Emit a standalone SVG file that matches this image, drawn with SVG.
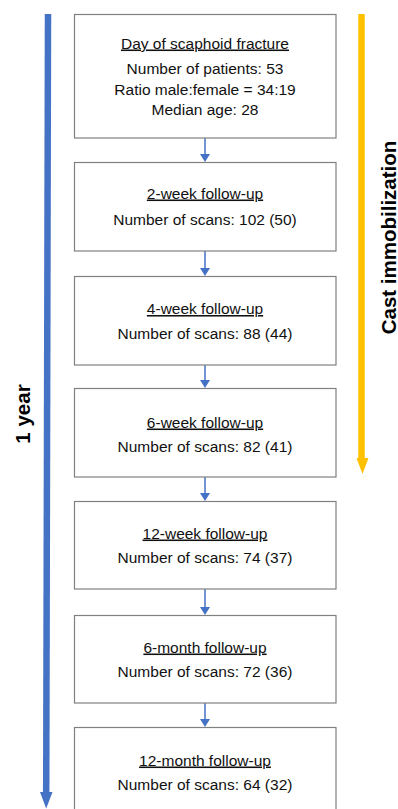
<svg xmlns="http://www.w3.org/2000/svg" width="398" height="809" viewBox="0 0 398 809">
<defs>
<style>
.box{fill:#fff;stroke:#808080;stroke-width:1.2}
.t{font-family:"Liberation Sans",Arial,sans-serif;font-size:15.5px;fill:#111;text-anchor:middle}
.h{text-decoration:underline}
.conn{stroke:#4472C4;stroke-width:1.5;fill:none}
.ah{fill:#4472C4}
.big{font-family:"Liberation Sans",Arial,sans-serif;font-size:20.5px;font-weight:bold;fill:#000;text-anchor:middle}
</style>
</defs>
<rect width="398" height="809" fill="#fff"/>
<g id="timeline-year">
<path d="M48 14 L46.2 794" stroke="#4472C4" stroke-width="6.5" fill="none"/>
<polygon points="40,792 52.5,792 46.2,808.5" fill="#4472C4"/>
<text class="big" transform="translate(29.5,414) rotate(-90)">1 year</text>
</g>
<g id="timeline-cast">
<line x1="361.5" y1="14" x2="361.5" y2="460" stroke="#FFC000" stroke-width="6.5"/>
<polygon points="356.5,458 368.5,458 362.5,474" fill="#FFC000"/>
<text class="big" transform="translate(395.5,237.5) rotate(-90)">Cast immobilization</text>
</g>
<g id="connectors">
<line class="conn" x1="205" y1="138" x2="205" y2="155"/><polygon class="ah" points="200,154 210,154 205,162"/>
<line class="conn" x1="205" y1="251" x2="205" y2="269"/><polygon class="ah" points="200,268 210,268 205,276"/>
<line class="conn" x1="205" y1="365" x2="205" y2="381"/><polygon class="ah" points="200,380 210,380 205,388"/>
<line class="conn" x1="205" y1="477" x2="205" y2="494"/><polygon class="ah" points="200,493 210,493 205,501"/>
<line class="conn" x1="205" y1="589" x2="205" y2="608"/><polygon class="ah" points="200,607 210,607 205,615"/>
<line class="conn" x1="205" y1="703" x2="205" y2="720"/><polygon class="ah" points="200,719 210,719 205,727"/>
</g>
<g id="n-day">
<rect class="box" x="74.5" y="14.5" width="261.5" height="123.5"/>
<text class="t h" x="205" y="48.5">Day of scaphoid fracture</text>
<text class="t" x="205" y="73.5">Number of patients: 53</text>
<text class="t" x="205" y="94.5">Ratio male:female = 34:19</text>
<text class="t" x="205" y="114.5">Median age: 28</text>
</g>
<g id="n-2w">
<rect class="box" x="74.5" y="162.5" width="261.5" height="88.5"/>
<text class="t h" x="205" y="198.5">2-week follow-up</text>
<text class="t" x="205" y="224.5">Number of scans: 102 (50)</text>
</g>
<g id="n-4w">
<rect class="box" x="74.5" y="276.5" width="261.5" height="88.5"/>
<text class="t h" x="205" y="314">4-week follow-up</text>
<text class="t" x="205" y="338.5">Number of scans: 88 (44)</text>
</g>
<g id="n-6w">
<rect class="box" x="74.5" y="388.5" width="261.5" height="88.5"/>
<text class="t h" x="205" y="427.5">6-week follow-up</text>
<text class="t" x="205" y="451.5">Number of scans: 82 (41)</text>
</g>
<g id="n-12w">
<rect class="box" x="74.5" y="501.5" width="261.5" height="87.5"/>
<text class="t h" x="205" y="538.5">12-week follow-up</text>
<text class="t" x="205" y="562.5">Number of scans: 74 (37)</text>
</g>
<g id="n-6m">
<rect class="box" x="74.5" y="615.5" width="261.5" height="87.5"/>
<text class="t h" x="205" y="652.5">6-month follow-up</text>
<text class="t" x="205" y="677">Number of scans: 72 (36)</text>
</g>
<g id="n-12m">
<rect class="box" x="74.5" y="727.5" width="261.5" height="90"/>
<text class="t h" x="205" y="765.5">12-month follow-up</text>
<text class="t" x="205" y="789.5">Number of scans: 64 (32)</text>
</g>
</svg>
